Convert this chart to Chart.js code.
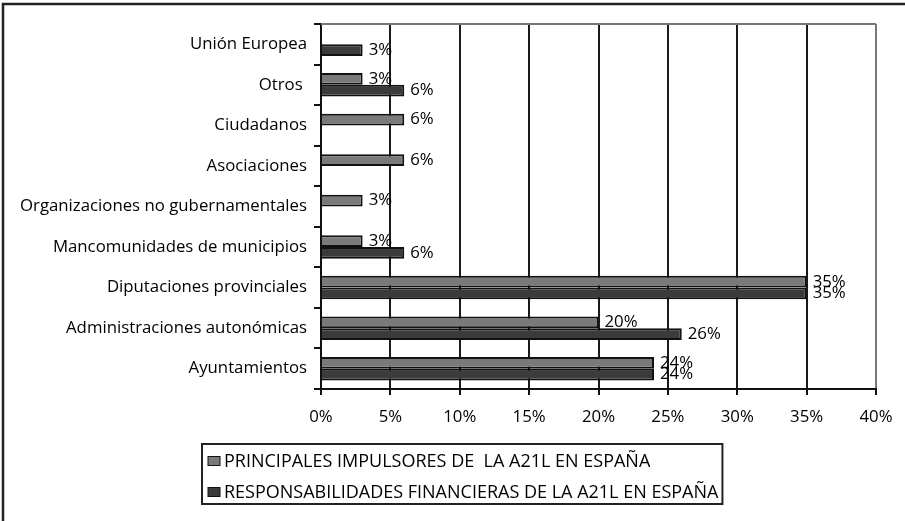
<!DOCTYPE html>
<html>
<head>
<meta charset="utf-8">
<script src="https://cdn.jsdelivr.net/npm/chart.js@4.4.1/dist/chart.umd.min.js"></script>
<style>
  html, body { margin: 0; padding: 0; background: #fff; }
  #wrap { width: 905px; height: 521px; position: relative; }
</style>
</head>
<body>
<div id="wrap"><canvas id="chart"></canvas></div>
<script>
// data (percent)
const categories = [
    'Unión Europea',
    'Otros ',
    'Ciudadanos',
    'Asociaciones',
    'Organizaciones no gubernamentales',
    'Mancomunidades de municipios',
    'Diputaciones provinciales',
    'Administraciones autonómicas',
    'Ayuntamientos'
];
const impulsores = [null, 3, 6, 6, 3, 3, 35, 20, 24];
const financieras = [3, 6, null, null, null, 6, 35, 26, 24];
const xTickValues = [0, 5, 10, 15, 20, 25, 30, 35, 40];

const seriesNames = [
    'PRINCIPALES IMPULSORES DE  LA A21L EN ESPAÑA',
    'RESPONSABILIDADES FINANCIERAS DE LA A21L EN ESPAÑA'
];

const FONT = "'Open Sans', sans-serif";
Chart.defaults.font.family = FONT;
Chart.defaults.font.size = 16.8;
Chart.defaults.color = '#000';

// outer frame + top plot border
const framePlugin = {
    id: 'frame',
    beforeDraw(chart) {
        const c = chart.ctx;
        c.save();
        c.fillStyle = '#fff';
        c.fillRect(0, 0, chart.width, chart.height);
        c.strokeStyle = '#222';
        c.lineWidth = 2.5;
        c.strokeRect(3, 4, chart.width + 20, chart.height + 20);
        c.restore();
    },
    beforeDatasetsDraw(chart) {
        const a = chart.chartArea;
        const c = chart.ctx;
        c.save();
        c.strokeStyle = '#777';
        c.lineWidth = 2;
        c.beginPath();
        c.moveTo(a.left, a.top);
        c.lineTo(a.right, a.top);
        c.stroke();
        c.restore();
    }
};

// value labels at the bar ends
const valueLabels = {
    id: 'valueLabels',
    afterDatasetsDraw(chart) {
        const c = chart.ctx;
        c.save();
        c.font = '16.8px ' + FONT;
        c.fillStyle = '#000';
        c.textAlign = 'left';
        c.textBaseline = 'middle';
        chart.data.datasets.forEach((ds, i) => {
            const meta = chart.getDatasetMeta(i);
            meta.data.forEach((bar, j) => {
                const v = ds.data[j];
                if (v === null || v === undefined) return;
                c.fillText(v + '%', bar.x + 6, bar.y);
            });
        });
        c.restore();
    }
};

// boxed legend under the axis
const boxLegend = {
    id: 'boxLegend',
    afterDraw(chart) {
        const c = chart.ctx;
        const left = 202, top = 444, rowH = 31;
        c.save();
        c.font = '18px ' + FONT;
        c.textBaseline = 'middle';
        let maxW = 0;
        chart.data.datasets.forEach(ds => { maxW = Math.max(maxW, c.measureText(ds.label).width); });
        const textX = left + 22;
        c.strokeStyle = '#222';
        c.lineWidth = 2;
        c.strokeRect(left, top, textX + maxW + 4 - left, 60);
        chart.data.datasets.forEach((ds, i) => {
            const y = top + 17 + i * rowH;
            c.fillStyle = ds.backgroundColor;
            c.fillRect(left + 6, y - 4.5, 12, 9);
            c.strokeStyle = '#111';
            c.lineWidth = 1;
            c.strokeRect(left + 6, y - 4.5, 12, 9);
            c.fillStyle = '#000';
            c.fillText(ds.label, textX, y + 1);
        });
        c.restore();
    }
};

new Chart(document.getElementById('chart'), {
    type: 'bar',
    data: {
        labels: categories,
        datasets: [
            {
                label: seriesNames[0],
                data: impulsores,
                backgroundColor: '#7a7a7a',
                borderColor: '#111',
                borderWidth: 2,
                categoryPercentage: 0.58,
                barPercentage: 1.0
            },
            {
                label: seriesNames[1],
                data: financieras,
                backgroundColor: '#3b3b3b',
                borderColor: '#111',
                borderWidth: 2,
                categoryPercentage: 0.58,
                barPercentage: 1.0
            }
        ]
    },
    options: {
        indexAxis: 'y',
        responsive: true,
        maintainAspectRatio: false,
        animation: false,
        layout: { padding: { top: 24, right: 29, left: 0, bottom: 0 } },
        plugins: {
            legend: { display: false },
            tooltip: { enabled: false }
        },
        scales: {
            x: {
                min: 0,
                max: 40,
                afterBuildTicks: s => { s.ticks = xTickValues.map(v => ({ value: v })); },
                afterFit: s => { s.height = 132; },
                grid: {
                    color: ctx => (ctx.tick && ctx.tick.value === 40) ? '#777' : '#1a1a1a',
                    tickColor: '#111',
                    lineWidth: 2,
                    tickLength: 6
                },
                border: { color: '#111', width: 2 },
                ticks: {
                    padding: 12,
                    maxRotation: 0,
                    callback: v => v + '%'
                }
            },
            y: {
                afterFit: s => { s.width = 321; },
                grid: {
                    offset: true,
                    drawOnChartArea: false,
                    tickLength: 7,
                    color: '#111',
                    lineWidth: 2
                },
                border: { color: '#111', width: 2 },
                ticks: { padding: 7, autoSkip: false }
            }
        }
    },
    plugins: [framePlugin, valueLabels, boxLegend]
});
</script>
</body>
</html>
